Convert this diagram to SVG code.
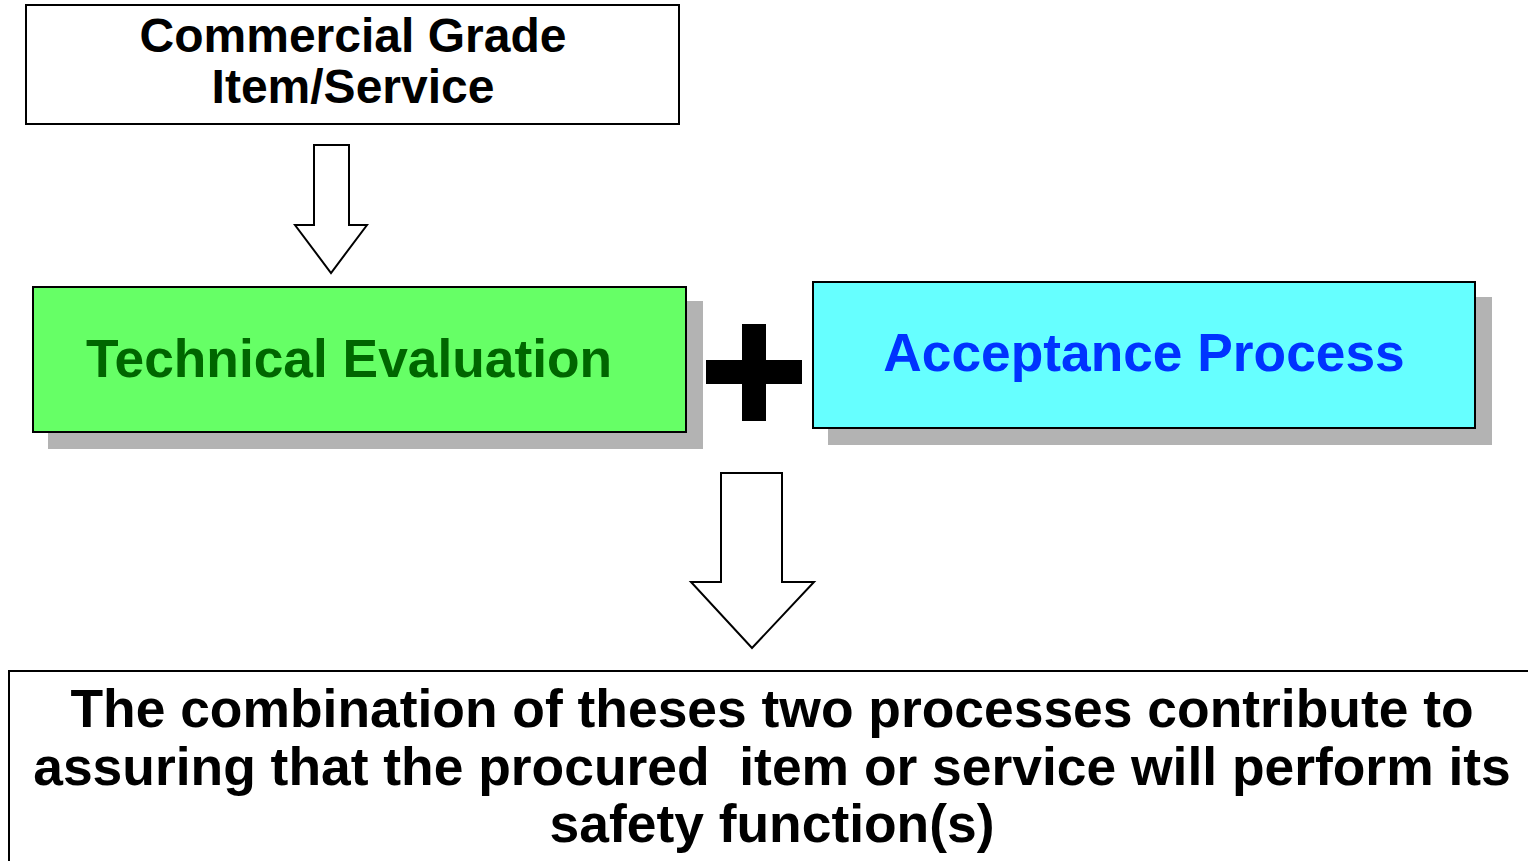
<svg xmlns="http://www.w3.org/2000/svg" width="1528" height="861" viewBox="0 0 1528 861">
<style>
text { font-family: "Liberation Sans", Arial, sans-serif; font-weight: bold; text-anchor: middle; white-space: pre; }
.box { stroke: #000; stroke-width: 2; }
.shadow { fill: #b3b3b3; }
.arrow { fill: #fff; stroke: #000; stroke-width: 2; stroke-linejoin: miter; }
</style>
<rect width="1528" height="861" fill="#fff"/>
<g id="commercial-grade">
  <rect class="box" x="26" y="5" width="653" height="119" fill="#fff"/>
  <text x="353" y="52" font-size="48" fill="#000">Commercial Grade</text>
  <text x="353" y="103" font-size="48" fill="#000">Item/Service</text>
</g>
<g id="technical-evaluation">
  <rect class="shadow" x="48" y="301" width="655" height="148"/>
  <rect class="box" x="33" y="287" width="653" height="145" fill="#66ff66"/>
  <text x="349" y="377" font-size="53.3" fill="#006600">Technical Evaluation</text>
</g>
<g id="plus">
  <rect x="742" y="324" width="24" height="97" fill="#000"/>
  <rect x="706" y="360" width="96" height="24" fill="#000"/>
</g>
<g id="acceptance-process">
  <rect class="shadow" x="828" y="297" width="664" height="148"/>
  <rect class="box" x="813" y="282" width="662" height="146" fill="#66ffff"/>
  <text x="1144" y="371" font-size="53.3" fill="#0033ff">Acceptance Process</text>
</g>
<g id="connectors">
  <polygon class="arrow" points="314,145 349,145 349,225 367,225 331,273 295,225 314,225"/>
  <polygon class="arrow" points="721,473 782,473 782,582 814,582 752,648 691,582 721,582"/>
</g>
<g id="conclusion">
  <rect class="box" x="9" y="671" width="1530" height="200" fill="#fff"/>
  <text x="772" y="727" font-size="53.4" fill="#000">The combination of theses two processes contribute to</text>
  <text x="772" y="785" font-size="53.4" fill="#000" xml:space="preserve">assuring that the procured  item or service will perform its</text>
  <text x="772" y="842" font-size="53.4" fill="#000">safety function(s)</text>
</g>
</svg>
